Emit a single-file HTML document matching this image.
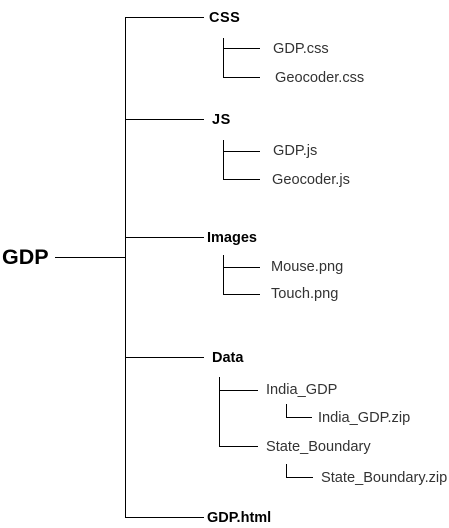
<!DOCTYPE html>
<html><head><meta charset="utf-8"><style>
body{margin:0;background:#fff;width:449px;height:528px;overflow:hidden}
svg{display:block}
text{font-family:"Liberation Sans",Arial,sans-serif;dominant-baseline:central}
.b{font-weight:bold;font-size:14.5px;fill:#000}
.n{font-size:14.6px;fill:#333}
line{stroke:#000;stroke-width:1}
</style></head><body>
<svg width="449" height="528">
<g>
<line x1="55" y1="257.5" x2="125" y2="257.5"/>
<line x1="125.5" y1="17" x2="125.5" y2="517"/>
<line x1="125" y1="17.5" x2="204" y2="17.5"/>
<line x1="125" y1="119.5" x2="204" y2="119.5"/>
<line x1="125" y1="237.5" x2="204" y2="237.5"/>
<line x1="125" y1="357.5" x2="204" y2="357.5"/>
<line x1="125" y1="517.5" x2="204" y2="517.5"/>
<line x1="223.5" y1="38" x2="223.5" y2="77"/>
<line x1="223" y1="48.5" x2="260" y2="48.5"/>
<line x1="223" y1="77.5" x2="260" y2="77.5"/>
<line x1="223.5" y1="140" x2="223.5" y2="179"/>
<line x1="223" y1="151.5" x2="260" y2="151.5"/>
<line x1="223" y1="179.5" x2="260" y2="179.5"/>
<line x1="223.5" y1="255" x2="223.5" y2="294"/>
<line x1="223" y1="267.5" x2="260" y2="267.5"/>
<line x1="223" y1="294.5" x2="260" y2="294.5"/>
<line x1="219.5" y1="377" x2="219.5" y2="446"/>
<line x1="219" y1="390.5" x2="258" y2="390.5"/>
<line x1="219" y1="446.5" x2="258" y2="446.5"/>
<line x1="286.5" y1="404" x2="286.5" y2="417"/>
<line x1="286" y1="417.5" x2="312" y2="417.5"/>
<line x1="286.5" y1="464" x2="286.5" y2="477"/>
<line x1="286" y1="477.5" x2="313" y2="477.5"/>
</g>
<text x="2" y="257" style="font-weight:bold;font-size:21.5px">GDP</text>
<text class="b" x="209" y="18" style="letter-spacing:0.5px">CSS</text>
<text class="n" x="273" y="49">GDP.css</text>
<text class="n" x="275" y="78">Geocoder.css</text>
<text class="b" x="212" y="120" style="letter-spacing:0.5px">JS</text>
<text class="n" x="273" y="151">GDP.js</text>
<text class="n" x="272" y="180">Geocoder.js</text>
<text class="b" x="207" y="238">Images</text>
<text class="n" x="271" y="267">Mouse.png</text>
<text class="n" x="271" y="294">Touch.png</text>
<text class="b" x="212" y="358">Data</text>
<text class="n" x="266" y="390">India_GDP</text>
<text class="n" x="318" y="418">India_GDP.zip</text>
<text class="n" x="266" y="447">State_Boundary</text>
<text class="n" x="321" y="478">State_Boundary.zip</text>
<text class="b" x="207" y="518">GDP.html</text>
</svg>
</body></html>
